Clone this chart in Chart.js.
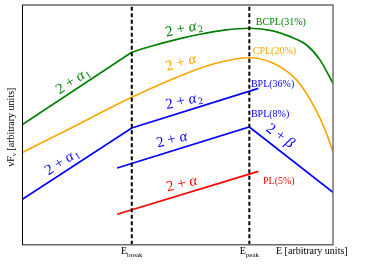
<!DOCTYPE html>
<html>
<head>
<meta charset="utf-8">
<script src="https://cdn.jsdelivr.net/npm/chart.js@4.4.0/dist/chart.umd.min.js"></script>
<style>
  html, body { margin: 0; padding: 0; background: #fff; }
  #wrap { width: 365px; height: 264px; position: relative; }
</style>
</head>
<body>
<div id="wrap"><canvas id="chart"></canvas></div>
<script>
// energy axis in arbitrary units, 0..10
const eBreak = 3.53;
const ePeak = 7.31;
const xTickValues = [eBreak, ePeak];
const xTickNames = ["break", "peak"];

// BCPL: power law up to the break, curved after it
const bcplLowX = [0, 3.53];
const bcplLowY = [5.0, 8.03];
const bcplHighX = [3.53, 4.12, 5.08, 5.72, 6.5, 7.33, 8.07, 8.62, 9.15, 9.58, 10];
const bcplHighY = [8.03, 8.27, 8.6, 8.78, 8.95, 9.03, 8.92, 8.68, 8.33, 7.71, 6.73];

// CPL
const cplX = [0, 1.5, 3.53, 5.08, 6.26, 7.33, 8.08, 8.83, 9.42, 9.8, 10];
const cplY = [3.84, 4.82, 6.15, 7.04, 7.58, 7.8, 7.57, 6.87, 5.7, 4.62, 3.87];

// BPL (36%)
const bpl36X = [0, 3.53, 7.6];
const bpl36Y = [1.88, 4.87, 6.52];

// BPL (8%)
const bpl8X = [3.06, 7.31, 10];
const bpl8Y = [3.2, 4.91, 2.18];

// PL (5%)
const plX = [3.06, 7.6];
const plY = [1.27, 3.06];

const green = "#008000", orange = "#ffa500", blue = "#0000ff", red = "#ff0000";

function pts(xs, ys) {
  return xs.map((x, i) => ({ x: x, y: ys[i] }));
}

// model names next to the curves
const tags = [
  { text: "BCPL(31%)", x: 7.52, y: 9.27, color: green },
  { text: "CPL(20%)", x: 7.42, y: 8.08, color: orange },
  { text: "BPL(36%)", x: 7.36, y: 6.7, color: blue },
  { text: "BPL(8%)", x: 7.36, y: 5.45, color: blue },
  { text: "PL(5%)", x: 7.75, y: 2.66, color: red }
];

// slope labels "2 + alpha" etc.
const slopes = [
  { g: "α", sub: "1", x: 1.64, y: 6.83, rot: -33, color: green },
  { g: "α", sub: "2", x: 5.21, y: 9.0, rot: -12, color: green },
  { g: "α", sub: "", x: 5.11, y: 7.58, rot: -16, color: orange },
  { g: "α", sub: "2", x: 5.21, y: 5.99, rot: -13, color: blue },
  { g: "α", sub: "1", x: 1.29, y: 3.45, rot: -33, color: blue },
  { g: "α", sub: "", x: 4.82, y: 4.37, rot: -14, color: blue },
  { g: "β", sub: "", x: 8.3, y: 4.53, rot: 36, color: blue },
  { g: "α", sub: "", x: 5.14, y: 2.53, rot: -13, color: red }
];

const serif = '"Liberation Serif", "DejaVu Serif", serif';

function drawMath(ctx, cx, cy, rot, g, sub, color) {
  ctx.save();
  ctx.translate(cx, cy);
  ctx.rotate(rot * Math.PI / 180);
  ctx.fillStyle = color;
  ctx.textBaseline = "middle";
  ctx.textAlign = "left";
  ctx.font = "15px " + serif;
  const wa = ctx.measureText("2 + ").width;
  ctx.font = "italic 15px " + serif;
  const wg = ctx.measureText(g).width;
  ctx.font = "10px " + serif;
  const ws = sub ? ctx.measureText(sub).width + 1 : 0;
  let x = -(wa + wg + ws) / 2;
  ctx.font = "15px " + serif;
  ctx.fillText("2 + ", x, 0);
  x += wa;
  ctx.font = "italic 15px " + serif;
  ctx.fillText(g, x, 0);
  x += wg;
  if (sub) {
    ctx.font = "10px " + serif;
    ctx.fillText(sub, x + 1, 4);
  }
  ctx.restore();
}

const decor = {
  id: "decor",
  afterDatasetsDraw(chart) {
    const ctx = chart.ctx;
    const a = chart.chartArea;
    const sx = chart.scales.x, sy = chart.scales.y;

    // frame
    ctx.save();
    ctx.strokeStyle = "#6a6a6a";
    ctx.lineWidth = 1.4;
    ctx.beginPath();
    ctx.moveTo(a.left, a.top);
    ctx.lineTo(a.right, a.top);
    ctx.lineTo(a.right, a.bottom);
    ctx.lineTo(a.left, a.bottom);
    ctx.stroke();
    ctx.strokeStyle = "#000";
    ctx.lineWidth = 1;
    ctx.beginPath();
    ctx.moveTo(a.left + 0.5, a.top);
    ctx.lineTo(a.left + 0.5, a.bottom);
    ctx.stroke();
    ctx.restore();

    ctx.save();
    ctx.textBaseline = "middle";
    ctx.textAlign = "left";
    ctx.font = "10px " + serif;
    tags.forEach(t => {
      ctx.fillStyle = t.color;
      ctx.fillText(t.text, sx.getPixelForValue(t.x), sy.getPixelForValue(t.y));
    });
    ctx.restore();

    slopes.forEach(s => {
      drawMath(ctx, sx.getPixelForValue(s.x), sy.getPixelForValue(s.y), s.rot, s.g, s.sub, s.color);
    });

    // x tick labels with subscripts
    ctx.save();
    ctx.fillStyle = "#000";
    ctx.textBaseline = "middle";
    ctx.textAlign = "left";
    const ty = a.bottom + 7;
    xTickValues.forEach((v, i) => {
      ctx.font = "10px " + serif;
      const we = ctx.measureText("E").width;
      ctx.font = "7px " + serif;
      const wsub = ctx.measureText(xTickNames[i]).width;
      let x = sx.getPixelForValue(v) - (we + wsub) / 2;
      ctx.font = "10px " + serif;
      ctx.fillText("E", x, ty);
      ctx.font = "7px " + serif;
      ctx.fillText(xTickNames[i], x + we, ty + 3);
    });
    ctx.font = "10px " + serif;
    ctx.fillText("E [arbitrary units]", 276, ty);

    // y title
    ctx.translate(11, 127);
    ctx.rotate(-Math.PI / 2);
    ctx.font = "10px " + serif;
    const w1 = ctx.measureText("νF").width;
    ctx.font = "7px " + serif;
    const w2 = ctx.measureText("ν").width;
    ctx.font = "10px " + serif;
    const w3 = ctx.measureText(" [arbitrary units]").width;
    let x = -(w1 + w2 + w3) / 2;
    ctx.fillText("νF", x, 0);
    ctx.font = "7px " + serif;
    ctx.fillText("ν", x + w1, 3);
    ctx.font = "10px " + serif;
    ctx.fillText(" [arbitrary units]", x + w1 + w2, 0);
    ctx.restore();
  }
};

function line(data, color, extra) {
  return Object.assign({
    data: data,
    borderColor: color,
    borderWidth: 1.7,
    pointRadius: 0,
    fill: false,
    tension: 0
  }, extra || {});
}

const datasets = [
  line(pts([eBreak, eBreak], [0, 10]), "#000", { borderDash: [4, 2.5], borderWidth: 2 }),
  line(pts([ePeak, ePeak], [0, 10]), "#000", { borderDash: [4, 2.5], borderWidth: 2 }),
  line(pts(bcplLowX, bcplLowY), green),
  line(pts(bcplHighX, bcplHighY), green, { cubicInterpolationMode: "monotone" }),
  line(pts(cplX, cplY), orange, { cubicInterpolationMode: "monotone" }),
  line(pts(bpl36X, bpl36Y), blue),
  line(pts(bpl8X, bpl8Y), blue),
  line(pts(plX, plY), red)
];

chart = new Chart(document.getElementById("chart"), {
  type: "line",
  data: { datasets: datasets },
  options: {
    responsive: true,
    maintainAspectRatio: false,
    animation: false,
    layout: { padding: { left: 22, right: 32, top: 5, bottom: 19.3 } },
    plugins: { legend: { display: false }, tooltip: { enabled: false } },
    scales: {
      x: { type: "linear", min: 0, max: 10, display: false },
      y: { type: "linear", min: 0, max: 10, display: false }
    }
  },
  plugins: [decor]
});
</script>
</body>
</html>
